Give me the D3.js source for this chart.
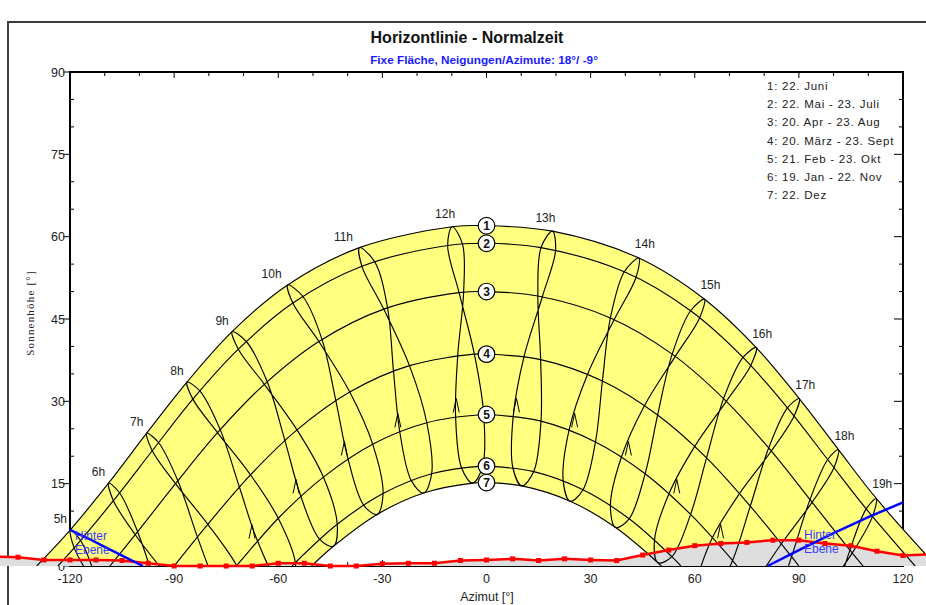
<!DOCTYPE html>
<html>
<head>
<meta charset="utf-8">
<script src="https://cdnjs.cloudflare.com/ajax/libs/d3/7.8.5/d3.min.js"></script>
<style>
  body { margin: 0; background: #fff; }
  text { font-family: "Liberation Sans", Arial, sans-serif; }
</style>
</head>
<body>
<svg id="chart" width="926" height="605"></svg>
<script>
// ---- values ----
const hours = [5, 6, 7, 8, 9, 10, 11, 12, 13, 14, 15, 16, 17, 18, 19];
// column order of sunPos (one column per date, one row per hour), [azimut, sonnenhöhe]
const dateCols = ["22.06", "23.07", "23.08", "23.09", "23.10", "22.11", "22.12", "19.01", "21.02", "20.03", "20.04", "22.05"];
const sunPos = [
  [[-119.9,6.6],[-118.8,3.3],[-112.9,-3.3],null,null,null,null,null,null,null,[-112.2,-2.8],[-116.9,4.6]],
  [[-108.9,15.1],[-107.5,11.9],[-101.2,5.7],[-92.1,-1.7],null,null,null,null,null,[-95.1,-4.0],[-100.5,6.2],[-105.7,13.3]],
  [[-97.9,24.2],[-96.3,21.0],[-89.6,15.0],[-80.3,7.6],[-72.0,0.1],[-66.6,-7.6],null,null,[-77.7,-4.3],[-83.3,5.3],[-88.9,15.5],[-94.5,22.5]],
  [[-86.3,33.5],[-84.6,30.4],[-77.5,24.3],[-68.0,16.6],[-60.0,8.7],[-55.1,0.6],[-55.9,-3.5],[-60.0,-2.7],[-66.0,4.6],[-71.2,14.4],[-76.7,24.8],[-82.6,31.9]],
  [[-73.3,42.7],[-71.5,39.5],[-64.0,33.1],[-54.6,24.8],[-47.0,16.2],[-43.0,7.6],[-44.1,3.6],[-48.1,4.9],[-53.5,12.7],[-58.1,22.9],[-63.2,33.6],[-69.2,40.9]],
  [[-57.3,51.2],[-55.8,47.9],[-48.3,40.9],[-39.4,31.7],[-32.8,22.2],[-29.8,13.2],[-31.5,9.4],[-35.4,11.1],[-39.9,19.5],[-43.4,30.1],[-47.4,41.3],[-52.9,49.1]],
  [[-36.6,58.0],[-35.9,54.6],[-29.6,46.8],[-22.2,36.5],[-17.2,26.1],[-15.8,16.8],[-18.1,13.3],[-21.7,15.6],[-25.0,24.5],[-26.8,35.5],[-28.5,47.0],[-32.2,55.4]],
  [[-9.9,61.8],[-11.2,58.4],[-7.9,49.8],[-3.5,38.6],[-0.8,27.6],[-1.1,18.2],[-4.0,15.1],[-7.2,17.9],[-8.9,27.2],[-8.3,38.3],[-6.6,49.8],[-6.9,58.6]],
  [[19.0,61.0],[15.7,58.0],[14.8,49.2],[15.6,37.6],[15.7,26.4],[13.6,17.2],[10.2,14.6],[7.6,17.9],[7.7,27.3],[10.8,38.1],[16.1,49.1],[19.9,57.5]],
  [[43.9,56.1],[39.7,53.6],[35.7,45.2],[33.4,33.7],[31.4,22.6],[27.8,13.9],[24.1,11.8],[22.1,15.5],[23.8,24.8],[29.1,34.9],[36.8,44.9],[43.1,52.6]],
  [[62.8,48.6],[58.8,46.5],[53.5,38.6],[49.3,27.5],[45.7,16.8],[41.1,8.6],[37.2,7.0],[35.7,11.0],[38.9,19.9],[45.5,29.2],[54.4,38.2],[61.4,45.2]],
  [[77.7,39.8],[73.9,38.0],[68.3,30.5],[63.4,19.7],[58.8,9.4],[53.4,1.7],[49.4,0.6],[48.4,4.7],[52.6,13.2],[60.0,21.8],[69.1,30.0],[76.1,36.5]],
  [[90.1,30.5],[86.7,28.8],[81.3,21.5],[76.0,10.9],[70.9,1.0],[65.0,-6.3],null,[60.3,-2.9],[65.1,5.2],[72.9,13.2],[82.0,20.9],[88.6,27.3]],
  [[101.4,21.2],[98.3,19.4],[93.2,12.1],[87.9,1.7],[82.6,-8.1],null,null,null,[76.9,-3.6],[84.9,4.0],[93.8,11.6],[100.1,17.9]],
  [[112.3,12.3],[109.4,10.4],[104.7,2.9],[99.7,-7.6],null,null,null,null,null,[96.7,-5.3],[105.4,2.4],[111.2,9.0]]
];
const curveNames = ["1: 22. Juni", "2: 22. Mai - 23. Juli", "3: 20. Apr - 23. Aug", "4: 20. März - 23. Sept",
                    "5: 21. Feb - 23. Okt", "6: 19. Jan - 22. Nov", "7: 22. Dez"];
const curveCol = [0, 1, 2, 3, 4, 5, 6];          // which sunPos column belongs to each day curve
const curvePeak = [62.0, 58.8, 50.0, 38.6, 27.6, 18.2, 15.2];
const riseAz = [129.6, 123.5, 108.5, 90.0, 72.2, 56.0, 50.4];

const horizonAz = [-142.5,-135,-127.5,-120,-112.5,-105,-97.5,-90,-82.5,-75,-67.5,-60,-52.5,-45,-37.5,-30,-22.5,-15,-7.5,
                   0,7.5,15,22.5,30,37.5,45,52.5,60,67.5,75,82.5,90,97.5,105,112.5,120,127.5,135];
const horizonAlt = [1.7,1.6,1.1,1.1,1.1,1.0,0.5,0,0,0,0,0.5,0.5,0,0,0.4,0.5,0.5,1.0,
                    1.1,1.3,1.0,1.3,1.1,1.0,2.0,2.9,3.7,4.1,4.3,4.7,4.7,4.1,3.7,2.7,1.9,2.1,2.0];

const behindLeft = [[-120,6.6],[-115,5.1],[-110,3.5],[-105,1.9],[-99,0]];
const behindRight = [[81,0],[90,2.9],[100,6.0],[110,8.9],[120,11.6]];

const xTicks = [-120, -90, -60, -30, 0, 30, 60, 90, 120];
const yTicks = [0, 15, 30, 45, 60, 75, 90];

// ---- drawing ----
const svg = d3.select("#chart");
const x = d3.scaleLinear().domain([-120, 120]).range([70, 903]);
const y = d3.scaleLinear().domain([0, 90]).range([566, 72]);

// outer frame
svg.append("rect").attr("x", 8).attr("y", 22).attr("width", 940).attr("height", 600)
  .attr("fill", "none").attr("stroke", "#3c3c3c").attr("stroke-width", 2);

svg.append("text").attr("x", 467).attr("y", 43).attr("text-anchor", "middle")
  .style("font-size", "16px").style("font-weight", "bold").attr("fill", "#111")
  .text("Horizontlinie - Normalzeit");
svg.append("text").attr("x", 484).attr("y", 64).attr("text-anchor", "middle")
  .style("font-size", "11.8px").style("font-weight", "bold").attr("fill", "#1a1aff")
  .text("Fixe Fläche, Neigungen/Azimute: 18°/ -9°");

// axes frame + ticks
const ax = svg.append("g").attr("stroke", "#000");
ax.append("rect").attr("x", x(-120)).attr("y", y(90)).attr("width", x(120) - x(-120)).attr("height", y(0) - y(90))
  .attr("fill", "none").attr("stroke-width", 2);
d3.range(-120, 121, 10).forEach(v => {
  const len = v % 30 === 0 ? 6 : 4;
  ax.append("line").attr("x1", x(v)).attr("x2", x(v)).attr("y1", y(90)).attr("y2", y(90) + len);
  ax.append("line").attr("x1", x(v)).attr("x2", x(v)).attr("y1", y(0)).attr("y2", y(0) - len);
});
d3.range(0, 91, 5).forEach(v => {
  if (v % 15 === 0) {
    ax.append("line").attr("x1", x(-120) - 7).attr("x2", x(-120)).attr("y1", y(v)).attr("y2", y(v));
    ax.append("line").attr("x1", x(120) - 9).attr("x2", x(120)).attr("y1", y(v)).attr("y2", y(v));
  } else {
    ax.append("line").attr("x1", x(-120)).attr("x2", x(-120) + 4).attr("y1", y(v)).attr("y2", y(v));
    ax.append("line").attr("x1", x(120) - 4).attr("x2", x(120)).attr("y1", y(v)).attr("y2", y(v));
  }
});
svg.selectAll(".yl").data(yTicks).enter().append("text")
  .attr("x", 65).attr("y", d => y(d) + 4.5).attr("text-anchor", "end")
  .style("font-size", "12.5px").attr("fill", "#222").text(d => d);
svg.selectAll(".xl").data(xTicks).enter().append("text")
  .attr("x", d => x(d)).attr("y", 583).attr("text-anchor", "middle")
  .style("font-size", "12.5px").attr("fill", "#222").text(d => d);
svg.append("text").attr("x", 487).attr("y", 601).attr("text-anchor", "middle")
  .style("font-size", "12.5px").attr("fill", "#222").text("Azimut [°]");
svg.append("text").attr("transform", "translate(34,313) rotate(-90)").attr("text-anchor", "middle")
  .style("font-family", "'Liberation Serif', serif").style("font-size", "11px").style("letter-spacing", "1.2px")
  .attr("fill", "#222").text("Sonnenhöhe [°]");

// clip everything of the sun paths at the 0° line
svg.append("clipPath").attr("id", "above").append("rect")
  .attr("x", 0).attr("y", 0).attr("width", 926).attr("height", y(0));

const lineOpen = d3.line().x(d => x(d[0])).y(d => y(d[1])).curve(d3.curveCatmullRom);
const lineClosed = d3.line().x(d => x(d[0])).y(d => y(d[1])).curve(d3.curveCatmullRomClosed);

// day curves
const dayPts = curveCol.map((c, k) => {
  const p = sunPos.map(row => row[c]).filter(d => d && d[1] >= 0);
  p.push([-riseAz[k], 0], [riseAz[k], 0], [0, curvePeak[k]]);
  return p.sort((a, b) => a[0] - b[0]);
});

const sun = svg.append("g").attr("clip-path", "url(#above)");
const yellowPath = lineOpen(dayPts[0]) + lineOpen(dayPts[6].slice().reverse()).replace(/^M/, "L") + "Z";
sun.append("path").attr("d", yellowPath).attr("fill", "#ffff80").attr("stroke", "none");

// grey ground under the horizon line
const hor = horizonAz.map((a, i) => [a, horizonAlt[i]]);
svg.append("path")
  .attr("d", d3.area().x(d => x(d[0])).y0(y(0)).y1(d => y(d[1]))(hor))
  .attr("fill", "#dedede");

const lines = svg.append("g").attr("clip-path", "url(#above)")
  .attr("fill", "none").attr("stroke", "#000").attr("stroke-width", 1.15);
dayPts.forEach(p => lines.append("path").attr("d", lineOpen(p)));

// hour lines (analemma loops)
sunPos.forEach(row => {
  const n = row.length;
  const first = row.findIndex(d => d === null);
  if (first < 0) {
    lines.append("path").attr("d", lineClosed(row));
  } else {
    let s = first;
    while (row[s % n] === null) s++;
    const p = [];
    for (let i = 0; i < n; i++) {
      const d = row[(s + i) % n];
      if (d === null) break;
      p.push(d);
    }
    lines.append("path").attr("d", lineOpen(p));
  }
  // small kink of the loop around 1. März (between the 21.02 and 20.03 columns)
  const a = row[8], b = row[9];
  if (a && b) {
    const px = x(a[0] + (b[0] - a[0]) * 0.3), py = y(a[1] + (b[1] - a[1]) * 0.3);
    lines.append("path").attr("d", `M${px - 3},${py + 14}L${px},${py}L${px + 3},${py + 14}`)
      .attr("stroke-width", 1);
  }
});

// horizon line
svg.append("path").attr("d", d3.line().x(d => x(d[0])).y(d => y(d[1]))(hor))
  .attr("fill", "none").attr("stroke", "#ff0000").attr("stroke-width", 2.5);
svg.selectAll(".hm").data(hor).enter().append("rect")
  .attr("x", d => x(d[0]) - 2.5).attr("y", d => y(d[1]) - 2.5).attr("width", 5).attr("height", 5)
  .attr("fill", "#ff0000");

// limit of the tilted plane
[behindLeft, behindRight].forEach(b => {
  svg.append("path").attr("d", d3.line().x(d => x(d[0])).y(d => y(d[1]))(b))
    .attr("fill", "none").attr("stroke", "#0000ff").attr("stroke-width", 2.5);
});
[[75, 540], [804, 539]].forEach(([tx, ty]) => {
  svg.append("text").attr("x", tx).attr("y", ty).style("font-size", "12px").attr("fill", "#3a3aff").text("Hinter");
  svg.append("text").attr("x", tx).attr("y", ty + 14).style("font-size", "12px").attr("fill", "#3a3aff").text("Ebene");
});

// hour labels on the 22. Juni curve
hours.forEach((h, i) => {
  const d = sunPos[i][0];
  const dx = h <= 9 ? -10 : h <= 11 ? -16 : h <= 13 ? -7 : 6;
  const dy = h <= 11 ? -7 : h <= 13 ? -9 : -10;
  svg.append("text").attr("x", x(d[0]) + dx).attr("y", y(d[1]) + dy).attr("text-anchor", "middle")
    .style("font-size", "12px").attr("fill", "#222").text(h + "h");
});

// numbered markers
curvePeak.forEach((v, k) => {
  const g = svg.append("g").attr("transform", `translate(${x(0)},${y(v)})`);
  g.append("circle").attr("r", 8.3).attr("fill", "#fff").attr("stroke", "#000").attr("stroke-width", 1.2);
  g.append("text").attr("y", 4.3).attr("text-anchor", "middle").style("font-size", "12px")
    .style("font-weight", "bold").attr("fill", "#111").text(k + 1);
});

// legend
svg.selectAll(".lg").data(curveNames).enter().append("text")
  .attr("x", 767).attr("y", (d, i) => 90 + i * 18.2)
  .style("font-size", "11.5px").style("letter-spacing", "0.75px").attr("fill", "#222").text(d => d);
</script>
</body>
</html>
